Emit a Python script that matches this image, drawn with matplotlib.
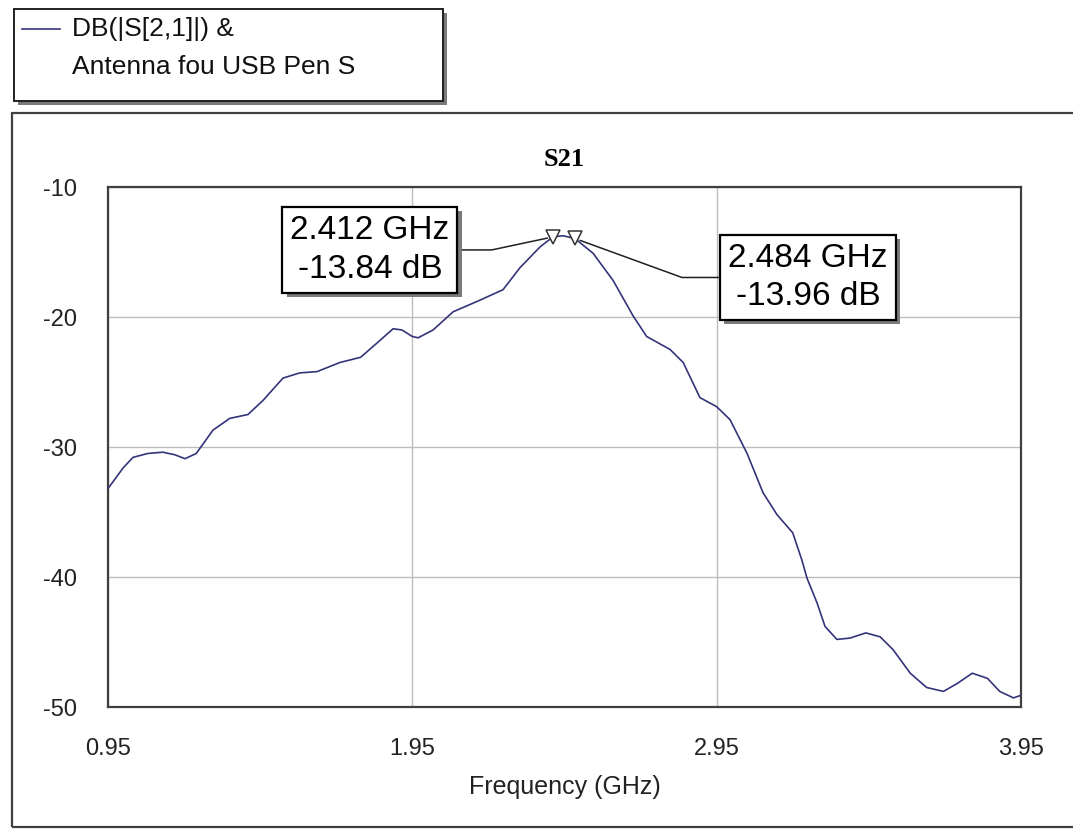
import matplotlib
matplotlib.use("Agg")
from matplotlib import pyplot as plt
from matplotlib import patheffects
from matplotlib.patches import Rectangle
from matplotlib.lines import Line2D

# S21 trace (GHz, dB)
freq = [0.95, 1.0, 1.032, 1.08, 1.13, 1.17, 1.203, 1.24, 1.295, 1.35, 1.41, 1.46, 1.525,
        1.58, 1.637, 1.712, 1.78, 1.834, 1.887, 1.916, 1.95, 1.969, 2.018,
        2.084, 2.163, 2.248, 2.304, 2.37, 2.412, 2.445, 2.484, 2.544, 2.61,
        2.675, 2.72, 2.797, 2.84, 2.895, 2.95, 2.994, 3.05, 3.102, 3.148,
        3.2, 3.23, 3.247, 3.28, 3.306, 3.345, 3.388, 3.44, 3.487, 3.53,
        3.586, 3.64, 3.695, 3.74, 3.79, 3.84, 3.88, 3.925, 3.95]
s21_db = [-33.2, -31.6, -30.8, -30.5, -30.4, -30.6, -30.9, -30.5, -28.7, -27.8, -27.5, -26.4, -24.7,
          -24.3, -24.2, -23.5, -23.1, -22.0, -20.9, -21.0, -21.5, -21.6, -21.0,
          -19.6, -18.8, -17.9, -16.2, -14.6, -13.84, -13.75, -13.96, -15.1, -17.2,
          -19.9, -21.5, -22.5, -23.5, -26.2, -26.9, -27.9, -30.5, -33.5, -35.2,
          -36.6, -38.7, -40.1, -42.0, -43.8, -44.8, -44.7, -44.3, -44.6, -45.6,
          -47.4, -48.5, -48.8, -48.2, -47.4, -47.8, -48.8, -49.3, -49.1]

marker_freq = [2.412, 2.484]
marker_db = [-13.84, -13.96]

xticks = [0.95, 1.95, 2.95, 3.95]
yticks = [-10, -20, -30, -40, -50]

legend_lines = ["DB(|S[2,1]|) &", "Antenna fou USB Pen S"]

W, H = 1073, 830
plt.rcParams['font.family'] = ['Liberation Sans', 'DejaVu Sans']
plt.rcParams['axes.unicode_minus'] = False

fig = plt.figure(figsize=(W / 100, H / 100), dpi=100)
fig.patch.set_facecolor("white")


def fx(x):
    return x / W


def fy(y):
    return 1 - y / H


# outer panel frame
fig.add_artist(Rectangle((fx(12), fy(827)), fx(1100 - 12), (827 - 113) / H,
                         transform=fig.transFigure, fill=False,
                         edgecolor="#404040", lw=1.6))

# legend box with shadow
fig.add_artist(Rectangle((fx(18), fy(105)), fx(429), 92 / H,
                         transform=fig.transFigure, facecolor="#7a7a7a",
                         edgecolor="none"))
fig.add_artist(Rectangle((fx(14), fy(101)), fx(429), 92 / H,
                         transform=fig.transFigure, facecolor="white",
                         edgecolor="#202020", lw=1.4))
line_color = "#34347a"
fig.add_artist(Line2D([fx(22), fx(60)], [fy(29), fy(29)],
                      transform=fig.transFigure, color=line_color, lw=1.2))
fig.text(fx(72), fy(29), legend_lines[0], fontsize=19, va="center",
         ha="left", color="#111111")
fig.text(fx(72), fy(67), legend_lines[1], fontsize=19, va="center",
         ha="left", color="#111111")

ax = fig.add_axes([fx(108), fy(707), (1021 - 108) / W, (707 - 187) / H])
ax.plot(freq, s21_db, color=line_color, lw=1.2, zorder=3)
ax.plot(marker_freq, marker_db, linestyle="none", marker="v", markersize=10,
        markerfacecolor="white", markeredgecolor="#333333", mew=1.1, zorder=4)

ax.set_xlim(0.95, 3.95)
ax.set_ylim(-50, -10)
ax.set_xticks(xticks)
ax.set_xticklabels(["%.2f" % t for t in xticks])
ax.set_yticks(yticks)
ax.set_yticklabels(["%d" % t for t in yticks])
ax.tick_params(length=0, labelsize=17, labelcolor="#222222")
ax.tick_params(axis="y", pad=22)
ax.tick_params(axis="x", pad=22)
ax.grid(True, color="#bdbdbd", lw=1.0)
ax.set_axisbelow(True)
for sp in ax.spines.values():
    sp.set_color("#404040")
    sp.set_linewidth(1.6)

ax.set_xlabel("Frequency (GHz)", fontsize=18, color="#222222")
ax.xaxis.set_label_coords(0.5, -0.13)
ax.text(0.5, 1 + 27 / 520, "S21", transform=ax.transAxes, ha="center",
        va="center", fontsize=19, fontweight="bold",
        family=["Liberation Serif", "DejaVu Serif"])

# marker readouts
label_pos = [(-183, -13), (233, -39)]
angle_b = [12, -20]
for f, v, pos, ab in zip(marker_freq, marker_db, label_pos, angle_b):
    t = ax.annotate("%.3f GHz\n%.2f dB" % (f, v), xy=(f, v),
                    xytext=(pos[0] * 0.72, pos[1] * 0.72),
                    textcoords="offset points", ha="center", va="center",
                    fontsize=24, linespacing=1.32, zorder=5,
                    bbox=dict(boxstyle="square,pad=0.24", facecolor="white",
                              edgecolor="black", lw=1.6),
                    arrowprops=dict(arrowstyle="-", color="#202020", lw=1.1,
                                    shrinkA=0, shrinkB=4,
                                    connectionstyle="angle,angleA=0,angleB=%d,rad=0" % ab))
    t.get_bbox_patch().set_path_effects([
        patheffects.SimplePatchShadow(offset=(3, -3), shadow_rgbFace="#7a7a7a", alpha=1),
        patheffects.Normal()])

fig.savefig("out.png", dpi=100)
